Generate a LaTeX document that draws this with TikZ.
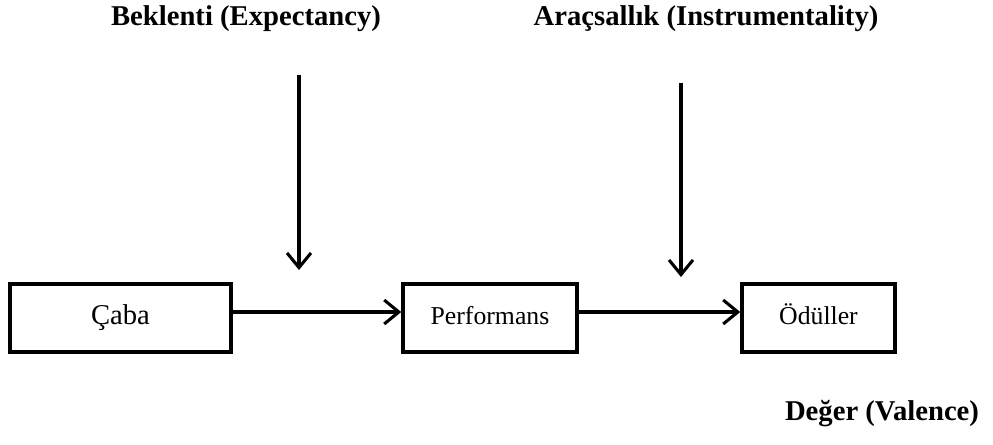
\documentclass[tikz,border=0pt]{standalone}
\usepackage{fontspec}
\setmainfont{Liberation Serif}
\usetikzlibrary{arrows.meta}
\begin{document}
\begin{tikzpicture}[x=0.75pt,y=-0.75pt,
  box/.style={draw,line width=2.6pt,inner sep=0pt,minimum height=51pt,text height=14pt,text depth=5pt,font=\fontsize{19.3}{23}\selectfont},
  conn/.style={line width=2.3pt,-{Straight Barb[length=11pt,width=18pt,line width=2.3pt]}},
  lbl/.style={anchor=base,font=\bfseries\fontsize{21.5}{26}\selectfont}]
\useasboundingbox (0,0) rectangle (993,444);
% boxes
\node[box,minimum width=165.75pt,font=\fontsize{21.5}{26}\selectfont] (caba) at (120.5,318) {Çaba};
\node[box,minimum width=130.5pt] (perf) at (490,318) {Performans};
\node[box,minimum width=114.75pt] (odul) at (818.5,318) {Ödüller};
\draw[conn] ([yshift=4.5pt]caba.east) -- ([yshift=4.5pt]perf.west);
\draw[conn] ([yshift=4.5pt]perf.east) -- ([yshift=4.5pt]odul.west);
% labels
\node[lbl] (expect) at (246,25) {Beklenti (Expectancy)};
\node[lbl] (instr) at (706,25) {Araçsallık (Instrumentality)};
\node[lbl] (valence) at (882,420) {Değer (Valence)};
\coordinate (e1) at (299,75);
\coordinate (e2) at (299,270);
\coordinate (i1) at (681,83);
\coordinate (i2) at (681,277);
\draw[conn] (e1) -- (e2);
\draw[conn] (i1) -- (i2);
\end{tikzpicture}
\end{document}
